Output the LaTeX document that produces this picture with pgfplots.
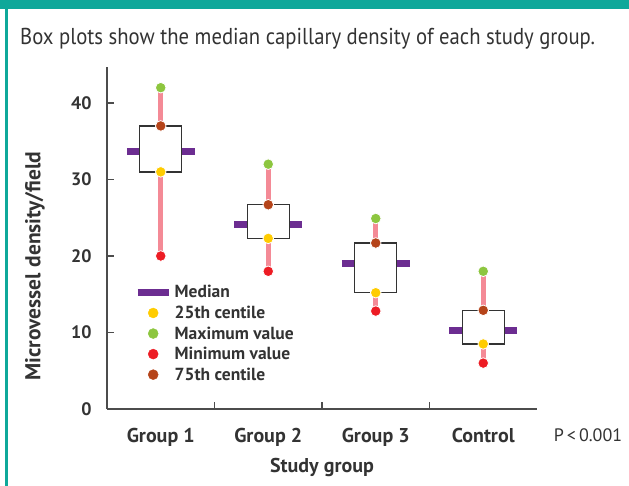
\documentclass[border=0pt]{standalone}
\usepackage{fontspec}
\setmainfont{PT Sans}
\newfontfamily\condsans[FakeStretch=0.9]{PT Sans}
\usepackage{pgfplots}
\pgfplotsset{compat=1.18}
\definecolor{myteal}{HTML}{0FA89A}
\definecolor{cmed}{HTML}{6C2D91}
\definecolor{cqone}{HTML}{FFCC00}
\definecolor{cmax}{HTML}{8DC63F}
\definecolor{cmin}{HTML}{ED1C24}
\definecolor{cqthree}{HTML}{B5441A}
\definecolor{cwhisk}{HTML}{F48A96}
\definecolor{ctext}{HTML}{333333}
\begin{document}
\begin{tikzpicture}[x=1pt,y=1pt]
\useasboundingbox (0,0) rectangle (629,486);
\fill[myteal] (0,477) rectangle (629,486);
\fill[myteal] (5,0) rectangle (8,477);
\node[anchor=base west, inner sep=0pt, text=ctext, font=\condsans\fontsize{23}{26}\selectfont] at (20,441) {Box plots show the median capillary density of each study group.};
\begin{axis}[
  at={(107pt,77pt)}, anchor=south west,
  x=1pt, y=7.65pt,
  xmin=0, xmax=430, ymin=0, ymax=44.7,
  clip=false,
  axis lines=left,
  axis line style={-, draw=black!70, line width=1.2pt},
  tick style={draw=black!70, line width=1.1pt},
  tick align=inside, major tick length=7pt,
  xtick={107.5,215,322.5}, xticklabels={},
  extra x ticks={53.75,161.25,268.75,376.25},
  extra x tick labels={Group 1,Group 2,Group 3,Control},
  extra x tick style={major tick length=0pt,
    xticklabel style={font=\fontsize{20}{20}\selectfont\bfseries, text=ctext, yshift=-16pt}},
  ytick={0,10,20,30,40},
  /pgf/number format/assume math mode=true,
  yticklabel style={font=\fontsize{18}{18}\selectfont\bfseries, text=ctext, xshift=-12pt},
  xlabel={Study group},
  xlabel style={font=\fontsize{20}{20}\selectfont\bfseries, text=ctext, yshift=-5pt},
  legend cell align=left,
  legend style={draw=none, fill=none, at={(axis cs:24,16.7)}, anchor=north west,
    font=\fontsize{17.5}{17.5}\selectfont\bfseries, text=ctext, row sep=2.6pt,
    /tikz/every even column/.append style={column sep=3pt}},
]
% whiskers
\addplot[cwhisk, line width=5pt, unbounded coords=jump, forget plot] coordinates {
  (53.75,20) (53.75,42) (53.75,nan)
  (161.25,18) (161.25,32) (161.25,nan)
  (268.75,12.8) (268.75,24.9) (268.75,nan)
  (376.25,6) (376.25,18)
};
% medians
\addplot[cmed, line width=7pt, unbounded coords=jump,
  legend image code/.code={\path[draw=none,fill=none] (0pt,0pt) -- (35pt,0pt);\draw[cmed, line width=7pt] (0pt,0pt) -- (31pt,0pt);}] coordinates {
  (19.75,33.6) (87.75,33.6) (53.75,nan)
  (127.25,24.1) (195.25,24.1) (161.25,nan)
  (234.75,19) (302.75,19) (268.75,nan)
  (342.25,10.2) (410.25,10.2)
};
\addlegendentry{Median}
% boxes
\addplot[draw=black!80, line width=1.4pt, fill=white, forget plot] coordinates {(32.75,31) (74.75,31) (74.75,37) (32.75,37)} -- cycle;
\addplot[draw=black!80, line width=1.4pt, fill=white, forget plot] coordinates {(140.25,22.3) (182.25,22.3) (182.25,26.7) (140.25,26.7)} -- cycle;
\addplot[draw=black!80, line width=1.4pt, fill=white, forget plot] coordinates {(247.75,15.2) (289.75,15.2) (289.75,21.7) (247.75,21.7)} -- cycle;
\addplot[draw=black!80, line width=1.4pt, fill=white, forget plot] coordinates {(355.25,8.5) (397.25,8.5) (397.25,12.9) (355.25,12.9)} -- cycle;
% dots
\addplot[only marks, mark=*, mark size=5.3pt, mark options={fill=cqone, draw=white, line width=0.8pt},
  legend image code/.code={\path[draw=none,fill=none] (0pt,0pt) -- (35pt,0pt);\fill[cqone] (15.5pt,0pt) circle (5pt);}] coordinates {(53.75,31) (161.25,22.3) (268.75,15.2) (376.25,8.5)};
\addlegendentry{25th centile}
\addplot[only marks, mark=*, mark size=5.3pt, mark options={fill=cmax, draw=white, line width=0.8pt},
  legend image code/.code={\path[draw=none,fill=none] (0pt,0pt) -- (35pt,0pt);\fill[cmax] (15.5pt,0pt) circle (5pt);}] coordinates {(53.75,42) (161.25,32) (268.75,24.9) (376.25,18)};
\addlegendentry{Maximum value}
\addplot[only marks, mark=*, mark size=5.3pt, mark options={fill=cmin, draw=white, line width=0.8pt},
  legend image code/.code={\path[draw=none,fill=none] (0pt,0pt) -- (35pt,0pt);\fill[cmin] (15.5pt,0pt) circle (5pt);}] coordinates {(53.75,20) (161.25,18) (268.75,12.8) (376.25,6)};
\addlegendentry{Minimum value}
\addplot[only marks, mark=*, mark size=5.3pt, mark options={fill=cqthree, draw=white, line width=0.8pt},
  legend image code/.code={\path[draw=none,fill=none] (0pt,0pt) -- (35pt,0pt);\fill[cqthree] (15.5pt,0pt) circle (5pt);}] coordinates {(53.75,37) (161.25,26.7) (268.75,21.7) (376.25,12.9)};
\addlegendentry{75th centile}
\end{axis}
\begin{scope}[every node/.style={text=ctext, inner sep=0pt}]
\node[font=\fontsize{18}{18}\selectfont] at (588,51) {P\,<\,0.001};
\node[rotate=90, font=\fontsize{21.5}{21.5}\selectfont\bfseries] at (35,220) {Microvessel density/field};
\end{scope}
\end{tikzpicture}
\end{document}
